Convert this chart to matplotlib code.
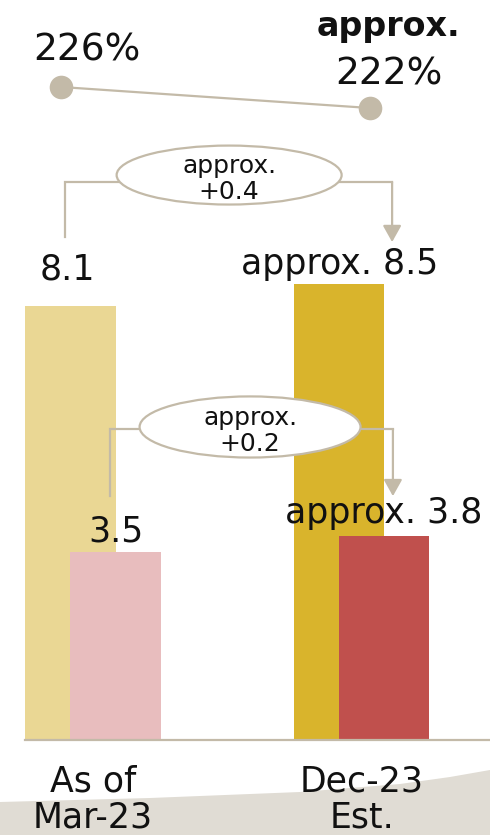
import matplotlib
matplotlib.use('Agg')
import matplotlib.pyplot as plt
import numpy as np
from matplotlib.patches import Ellipse, Polygon

# values
categories = ['As of\nMar-23', 'Dec-23\nEst.']
back_values = [8.1, 8.5]
front_values = [3.5, 3.8]
back_labels = ['8.1', 'approx. 8.5']
front_labels = ['3.5', 'approx. 3.8']
ratio_values = [226, 222]
ratio_labels = ['226%', '222%']
back_delta = 'approx.\n+0.4'
front_delta = 'approx.\n+0.2'

# styles
W, H, DPI = 490, 835, 100
BACK_COLORS = ['#EAD794', '#D9B42C']
FRONT_COLORS = ['#E8BDBE', '#C0504D']
GREY = '#C3BAA8'
BAND = '#E0DCD4'
TXT = '#111111'

GROUP_PX = 268.5     # pixels between the two groups
UNIT_PX = 53.6       # pixels per unit on the bar scale
BASE_PX = 95         # baseline height above figure bottom
BAR_W = 0.336
BAR_OFF = 0.084


def bracket(ax, x0, x1, y_top, y_left, y_tip, ell_xy, ell_w, ell_h, label):
    ax.plot([x0, x0, x1], [y_left, y_top, y_top], color=GREY, lw=1.6,
            solid_joinstyle='miter', zorder=3)
    ax.annotate('', xy=(x1, y_tip), xytext=(x1, y_top),
                arrowprops=dict(arrowstyle='-|>,head_length=0.5,head_width=0.28',
                                mutation_scale=20, color=GREY, lw=1.6,
                                shrinkA=0, shrinkB=0), zorder=3)
    ax.add_patch(Ellipse(ell_xy, ell_w, ell_h, facecolor='white',
                         edgecolor=GREY, lw=1.6, zorder=4))
    ax.annotate(label, xy=ell_xy, xytext=(0, -4), textcoords='offset pixels',
                ha='center', va='center', fontsize=18, color=TXT,
                linespacing=1.1, zorder=5)


def main():
    fig = plt.figure(figsize=(W / DPI, H / DPI), dpi=DPI)

    # light band behind the category labels
    band = [(0, 802), (150, 798), (300, 792), (400, 784), (450, 777),
            (490, 770), (490, 835), (0, 835)]
    fig.patches.append(Polygon([(x / W, 1 - y / H) for x, y in band],
                               closed=True, transform=fig.transFigure,
                               facecolor=BAND, edgecolor='none', zorder=-1))

    ax = fig.add_axes([0, 0, 1, 1])
    ax.patch.set_alpha(0)
    ax.set_xlim(-93 / GROUP_PX, (W - 93) / GROUP_PX)
    ax.set_ylim(-BASE_PX / UNIT_PX, (H - BASE_PX) / UNIT_PX)
    ax.axis('off')

    x = np.arange(len(categories))
    ax.bar(x - BAR_OFF, back_values, width=BAR_W, color=BACK_COLORS, zorder=1)
    ax.bar(x + BAR_OFF, front_values, width=BAR_W, color=FRONT_COLORS, zorder=2)
    ax.axhline(0, xmin=25 / W, xmax=1, color=GREY, lw=1.6, zorder=3)

    # value labels
    for i, (v, lab, dx, dy) in enumerate(zip(back_values, back_labels, [-3, 1], [26, 10])):
        ax.annotate(lab, xy=(x[i] - BAR_OFF, v), xytext=(dx, dy),
                    textcoords='offset pixels', ha='center', va='baseline',
                    fontsize=25, color=TXT, zorder=5)
    for i, (v, lab, dy) in enumerate(zip(front_values, front_labels, [11, 13])):
        ax.annotate(lab, xy=(x[i] + BAR_OFF, v), xytext=(0, dy),
                    textcoords='offset pixels', ha='center', va='baseline',
                    fontsize=25, color=TXT, zorder=5)

    # category labels
    for i, cat in enumerate(categories):
        for j, line in enumerate(cat.split('\n')):
            ax.annotate(line, xy=(x[i], 0), xytext=(0, -51 - 37 * j),
                        textcoords='offset pixels', ha='center', va='baseline',
                        fontsize=25, color=TXT, zorder=5)

    # change brackets
    bracket(ax, -0.104, 1.114, max(back_values) + 1.91, back_values[0] + 1.28,
            back_values[1] + 0.79, (0.507, 10.54), 0.838, 1.10, back_delta)
    bracket(ax, 0.063, 1.117, max(front_values) + 2.0, front_values[0] + 1.05,
            front_values[1] + 0.75, (0.585, 5.84), 0.823, 1.14, front_delta)

    # ratio line on its own scale
    ax2 = ax.twinx()
    ax2.set_ylim(226 - 748 / 5.25, 226 + 87 / 5.25)
    ax2.axis('off')
    rx = np.array([-0.119, 1.03])
    ax2.plot(rx, ratio_values, color=GREY, lw=1.6, marker='o', markersize=17,
             markeredgewidth=0, zorder=3)
    ax2.annotate(ratio_labels[0], xy=(rx[0], ratio_values[0]), xytext=(26, 26),
                 textcoords='offset pixels', ha='center', va='baseline',
                 fontsize=27, color=TXT)
    ax2.annotate(ratio_labels[1], xy=(rx[1], ratio_values[1]), xytext=(19, 23),
                 textcoords='offset pixels', ha='center', va='baseline',
                 fontsize=27, color=TXT)
    ax2.annotate('approx.', xy=(rx[1], ratio_values[1]), xytext=(19, 72),
                 textcoords='offset pixels', ha='center', va='baseline',
                 fontsize=24, fontweight='bold', color=TXT)

    fig.savefig('out.png', dpi=DPI)


if __name__ == '__main__':
    main()
